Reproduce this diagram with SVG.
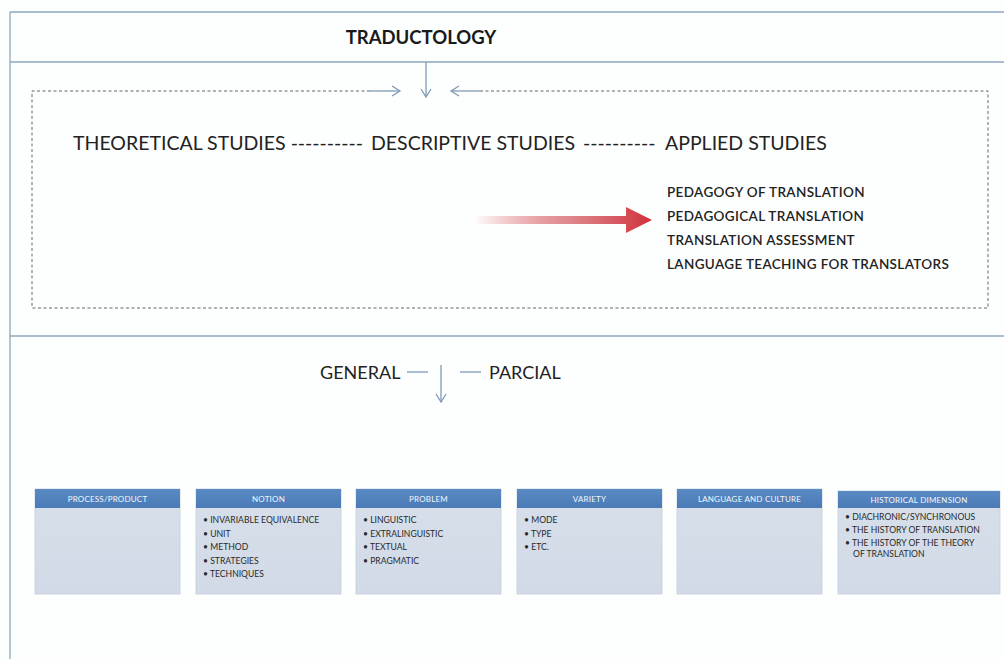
<svg xmlns="http://www.w3.org/2000/svg" width="1004" height="659" viewBox="0 0 1004 659">
<defs>
<style>
.frame{stroke:#8ea7bf;stroke-width:1.3;fill:none}
.conn{stroke:#7f9ab5;stroke-width:1.3;fill:none}
.dash{stroke:#666;stroke-width:1;fill:none;stroke-dasharray:3 2.5}
.title{font-family:Lato,"Liberation Sans",sans-serif;font-weight:bold;font-size:18.5px;fill:#1a1a1a}
.big{font-family:Lato,"Liberation Sans",sans-serif;font-size:19.5px;fill:#222}
.list{font-family:Lato,"Liberation Sans",sans-serif;font-size:13.5px;fill:#222;font-weight:600;letter-spacing:0.35px}
.mid{font-family:Lato,"Liberation Sans",sans-serif;font-size:18px;fill:#222}
.hdr{font-family:Lato,"Liberation Sans",sans-serif;font-size:8px;fill:#f2f6fb;text-anchor:middle;letter-spacing:0.2px}
.itm{font-family:Lato,"Liberation Sans",sans-serif;font-size:8.6px;fill:#2a2a2a}
.body{fill:url(#bodyg);stroke:#c5cfdb;stroke-width:0.8}
.head{fill:url(#headg)}
</style>
<linearGradient id="redg" x1="0" y1="0" x2="1" y2="0">
<stop offset="0" stop-color="#d43a43" stop-opacity="0"/>
<stop offset="0.55" stop-color="#d9787e" stop-opacity="0.9"/>
<stop offset="1" stop-color="#d0313b"/>
</linearGradient>
<linearGradient id="bodyg" x1="0" y1="0" x2="0" y2="1">
<stop offset="0" stop-color="#d6dfea"/>
<stop offset="1" stop-color="#d1dae6"/>
</linearGradient>
<linearGradient id="headg" x1="0" y1="0" x2="0" y2="1">
<stop offset="0" stop-color="#5a8ac4"/>
<stop offset="1" stop-color="#4a7bb6"/>
</linearGradient>
<marker id="ah" markerWidth="12" markerHeight="12" refX="10" refY="6" orient="auto" markerUnits="userSpaceOnUse">
<path d="M2,1 L10,6 L2,11" fill="none" stroke="#7f9ab5" stroke-width="1.3"/>
</marker>
</defs>
<rect width="1004" height="659" fill="#fdfefe"/>
<g id="frame">
<line class="frame" x1="10" y1="12" x2="1004" y2="12"/>
<line class="frame" x1="10" y1="62" x2="1004" y2="62"/>
<line class="frame" x1="10" y1="336" x2="1004" y2="336"/>
<line class="frame" x1="10" y1="12" x2="10" y2="659"/>
</g>
<g id="traductology">
<text class="title" x="421" y="44" text-anchor="middle">TRADUCTOLOGY</text>
</g>
<g id="studies-box">
<path class="dash" d="M370,91 H32 V308 H988 V91 H480"/>
<g class="big">
<text x="73" y="150">THEORETICAL STUDIES ----------</text>
<text x="371" y="150">DESCRIPTIVE STUDIES</text>
<text x="583" y="150">----------</text>
<text x="665" y="150">APPLIED STUDIES</text>
</g>
</g>
<g id="applied-list">
<text class="list" x="667" y="197">PEDAGOGY OF TRANSLATION</text>
<text class="list" x="667" y="221">PEDAGOGICAL TRANSLATION</text>
<text class="list" x="667" y="245">TRANSLATION ASSESSMENT</text>
<text class="list" x="667" y="269">LANGUAGE TEACHING FOR TRANSLATORS</text>
</g>
<g id="general-parcial">
<text class="mid" x="320" y="379">GENERAL</text>
<text class="mid" x="489" y="379">PARCIAL</text>
</g>
<g id="connectors">
<line class="conn" x1="426" y1="62" x2="426" y2="97" marker-end="url(#ah)"/>
<line class="conn" x1="370" y1="91" x2="400" y2="91" marker-end="url(#ah)"/>
<line class="conn" x1="480" y1="91" x2="451" y2="91" marker-end="url(#ah)"/>
<path d="M475,216 H626 V207 L652,220 L626,233 V224 H475 Z" fill="url(#redg)"/>
<line class="conn" x1="407" y1="372" x2="428" y2="372" stroke="#8a9aa8"/>
<line class="conn" x1="460" y1="372" x2="481" y2="372" stroke="#8a9aa8"/>
<line class="conn" x1="441" y1="365" x2="441" y2="402" marker-end="url(#ah)"/>
</g>
<g id="box-process">
<rect class="body" x="35" y="489" width="145" height="105"/>
<rect class="head" x="35" y="489" width="145" height="19"/>
<text class="hdr" x="107.5" y="501.5">PROCESS/PRODUCT</text>
</g>
<g id="box-notion">
<rect class="body" x="196" y="489" width="145" height="105"/>
<rect class="head" x="196" y="489" width="145" height="19"/>
<text class="hdr" x="268.5" y="501.5">NOTION</text>
<g class="itm">
<text x="203" y="523">•  INVARIABLE  EQUIVALENCE</text>
<text x="203" y="536.5">•  UNIT</text>
<text x="203" y="550">•  METHOD</text>
<text x="203" y="563.5">•  STRATEGIES</text>
<text x="203" y="577">•  TECHNIQUES</text>
</g>
</g>
<g id="box-problem">
<rect class="body" x="356" y="489" width="145" height="105"/>
<rect class="head" x="356" y="489" width="145" height="19"/>
<text class="hdr" x="428.5" y="501.5">PROBLEM</text>
<g class="itm">
<text x="363" y="523">•  LINGUISTIC</text>
<text x="363" y="536.5">•  EXTRALINGUISTIC</text>
<text x="363" y="550">•  TEXTUAL</text>
<text x="363" y="563.5">•  PRAGMATIC</text>
</g>
</g>
<g id="box-variety">
<rect class="body" x="517" y="489" width="145" height="105"/>
<rect class="head" x="517" y="489" width="145" height="19"/>
<text class="hdr" x="589.5" y="501.5">VARIETY</text>
<g class="itm">
<text x="524" y="523">•  MODE</text>
<text x="524" y="536.5">•  TYPE</text>
<text x="524" y="550">•  ETC.</text>
</g>
</g>
<g id="box-language">
<rect class="body" x="677" y="489" width="145" height="105"/>
<rect class="head" x="677" y="489" width="145" height="19"/>
<text class="hdr" x="749.5" y="501.5">LANGUAGE AND CULTURE</text>
</g>
<g id="box-historical">
<rect class="body" x="838" y="491" width="162" height="103"/>
<rect class="head" x="838" y="491" width="162" height="17"/>
<text class="hdr" x="919" y="502.5">HISTORICAL  DIMENSION</text>
<g class="itm">
<text x="845" y="520">•  DIACHRONIC/SYNCHRONOUS</text>
<text x="845" y="533">•  THE HISTORY  OF TRANSLATION</text>
<text x="845" y="546">•  THE HISTORY  OF THE THEORY</text>
<text x="853" y="557">OF TRANSLATION</text>
</g>
</g>
</svg>
